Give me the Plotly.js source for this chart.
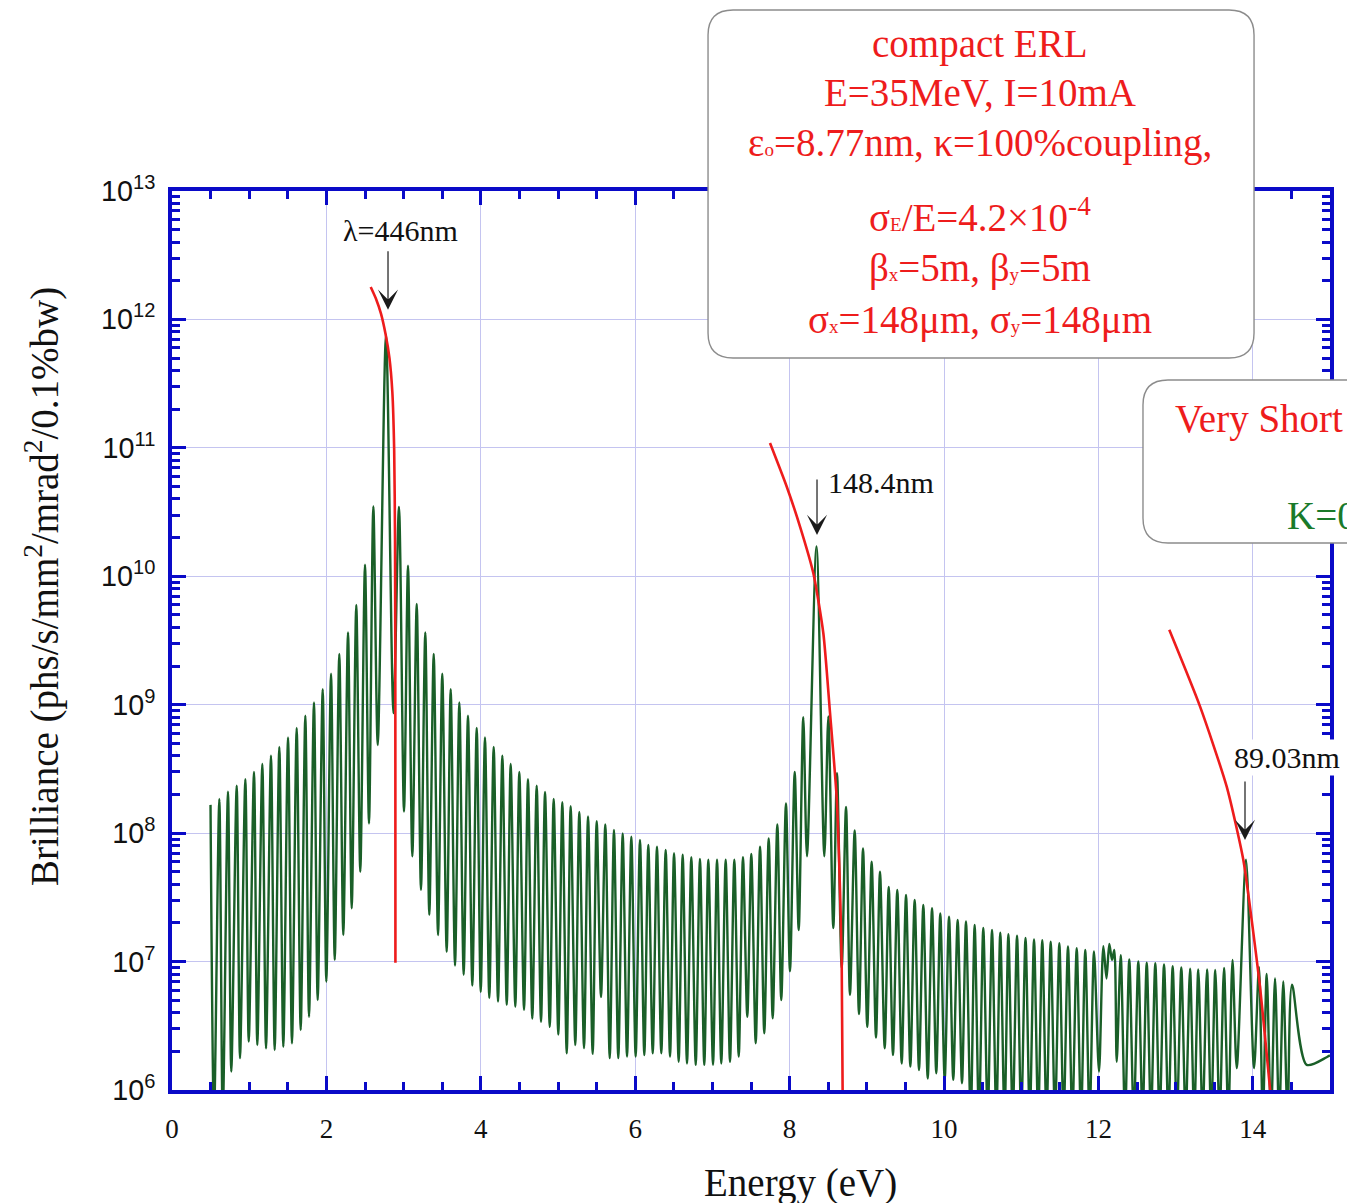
<!DOCTYPE html>
<html>
<head>
<meta charset="utf-8">
<script src="https://cdn.plot.ly/plotly-3.0.1.min.js"></script>
<style>html,body{margin:0;padding:0;background:#fff;}#chart{width:1347px;height:1203px;}</style>
</head>
<body>
<div id="chart"></div>
<script>
// ---- Green spectrum: alternating peak / trough vertices (Energy in eV, Brilliance) ----
const greenEnergy = [
0.499,0.544,0.613,0.657,0.725,0.768,0.838,0.881,0.950,0.994,
1.062,1.105,1.170,1.218,1.282,1.330,1.390,1.442,1.503,1.554,
1.615,1.667,1.727,1.775,1.839,1.887,1.952,1.999,2.060,2.108,
2.167,2.219,2.280,2.328,2.387,2.439,2.500,2.552,2.608,2.665,
2.772,2.869,2.940,3.005,3.057,3.113,3.170,3.225,3.281,3.333,
3.390,3.446,3.501,3.558,3.610,3.666,3.722,3.778,3.834,3.890,
3.947,3.999,4.054,4.110,4.167,4.223,4.279,4.336,4.387,4.447,
4.499,4.560,4.611,4.667,4.724,4.780,4.832,4.893,4.944,5.004,
5.056,5.113,5.164,5.224,5.276,5.337,5.389,5.449,5.501,5.557,
5.613,5.670,5.725,5.781,5.838,5.894,5.950,6.006,6.062,6.118,
6.170,6.227,6.282,6.338,6.395,6.451,6.503,6.563,6.615,6.671,
6.727,6.784,6.839,6.895,6.947,7.008,7.060,7.115,7.172,7.228,
7.284,7.341,7.396,7.452,7.504,7.561,7.617,7.672,7.729,7.781,
7.841,7.892,7.953,8.005,8.066,8.118,8.177,8.225,8.348,8.450,
8.502,8.566,8.614,8.675,8.731,8.782,8.843,8.899,8.951,9.006,
9.063,9.119,9.171,9.232,9.284,9.339,9.395,9.452,9.508,9.564,
9.620,9.676,9.732,9.789,9.845,9.900,9.952,10.009,10.065,10.120,
10.177,10.233,10.285,10.346,10.397,10.453,10.509,10.566,10.622,10.678,
10.729,10.784,10.834,10.890,10.946,11.000,11.056,11.111,11.166,11.220,
11.273,11.328,11.382,11.438,11.494,11.549,11.606,11.662,11.719,11.775,
11.830,11.886,11.943,12.008,12.064,12.105,12.141,12.176,12.206,12.237,
12.289,12.345,12.400,12.458,12.517,12.572,12.626,12.681,12.737,12.793,
12.850,12.907,12.962,13.017,13.074,13.130,13.187,13.241,13.294,13.350,
13.407,13.461,13.514,13.570,13.627,13.683,13.737,13.792,13.912,14.016,
14.080,14.130,14.180,14.236,14.288,14.342,14.395,14.451,14.508,14.698,
14.957,15.0
];
const greenBrilliance = [
1.66e8,6e5,1.85e8,6e5,2.10e8,1.39e6,2.34e8,1.77e6,2.63e8,2.38e6,
2.99e8,2.24e6,3.45e8,2.11e6,4.01e8,2.05e6,4.70e8,2.17e6,5.55e8,2.31e6,
6.6e8,2.93e6,8.2e8,3.72e6,1.04e9,5.02e6,1.32e9,6.97e6,1.74e9,1.03e7,
2.49e9,1.61e7,3.65e9,2.60e7,5.98e9,5.0e7,1.23e10,1.19e8,3.5e10,4.86e8,
7.6e11,8.6e8,3.47e10,1.47e8,1.21e10,6.6e7,6.1e9,3.61e7,3.65e9,2.31e7,
2.49e9,1.61e7,1.74e9,1.19e7,1.32e9,9.3e6,1.04e9,7.9e6,8.2e8,6.5e6,
6.6e8,5.8e6,5.55e8,5.2e6,4.70e8,4.88e6,4.01e8,4.6e6,3.45e8,4.45e6,
2.99e8,4.2e6,2.63e8,3.6e6,2.34e8,3.4e6,2.09e8,3.1e6,1.85e8,2.7e6,
1.74e8,1.93e6,1.62e8,2.24e6,1.46e8,2.12e6,1.35e8,1.91e6,1.24e8,5.3e6,
1.17e8,1.77e6,1.06e8,1.77e6,9.96e7,1.82e6,9.4e7,1.82e6,8.85e7,1.87e6,
8.1e7,1.93e6,7.85e7,1.93e6,7.4e7,1.82e6,6.97e7,1.66e6,6.8e7,1.61e6,
6.5e7,1.57e6,6.3e7,1.57e6,6.2e7,1.57e6,6.2e7,1.61e6,6.2e7,1.66e6,
6.2e7,1.82e6,6.5e7,3.72e6,6.9e7,2.31e6,7.85e7,2.76e6,9.1e7,3.62e6,
1.17e8,5.02e6,1.70e8,8.4e6,3.0e8,1.76e7,8.0e8,6.6e7,1.71e10,6.6e7,
8.1e8,1.82e7,2.93e8,8.9e6,1.60e8,5.5e6,1.05e8,3.9e6,7.6e7,3.1e6,
6.0e7,2.56e6,5.0e7,2.11e6,3.81e7,1.87e6,3.61e7,1.61e6,3.3e7,1.52e6,
3.02e7,1.43e6,2.76e7,1.23e6,2.60e7,1.35e6,2.37e7,1.20e6,2.24e7,1.20e6,
2.11e7,1.13e6,2.05e7,6e5,1.93e7,6e5,1.83e7,6e5,1.76e7,6e5,
1.68e7,6e5,1.63e7,6e5,1.59e7,6e5,1.53e7,6e5,1.49e7,6e5,
1.47e7,6e5,1.43e7,6e5,1.39e7,6e5,1.31e7,6e5,1.27e7,6e5,
1.23e7,6e5,1.20e7,1.39e6,1.32e7,7.4e6,1.37e7,1.03e7,1.23e7,1.66e6,
1.12e7,6e5,1.04e7,6e5,1.0e7,6e5,9.8e6,6e5,9.7e6,6e5,
9.5e6,6e5,9.2e6,6e5,9.0e6,6e5,8.8e6,6e5,8.7e6,6e5,
8.7e6,6e5,8.6e6,6e5,8.9e6,6e5,1.03e7,1.48e6,6.2e7,1.48e6,
9.1e6,6e5,8.0e6,6e5,7.4e6,6e5,7.0e6,6e5,6.6e6,1.57e6,
1.80e6,1.86e6
];

// ---- Red tuning curves (three harmonics) ----
const red1Energy = [2.574,2.642,2.707,2.766,2.817,2.854,2.878,2.889,2.893,2.894];
const red1Brilliance = [1.79e12,1.45e12,1.11e12,7.7e11,5.0e11,2.73e11,9.6e10,1.92e10,1.09e9,9.8e6];
const red2Energy = [7.746,7.962,8.135,8.307,8.437,8.523,8.610,8.653,8.675,8.688];
const red2Brilliance = [1.09e11,5.0e10,2.44e10,1.06e10,3.6e9,8.7e8,1.89e8,3.6e7,9.5e6,8e5];
const red3Energy = [12.918,13.316,13.662,13.877,13.986,14.093,14.171,14.240];
const red3Brilliance = [3.83e9,9.7e8,2.30e8,6.2e7,2.1e7,6.4e6,2.17e6,8e5];

// ---- Labels ----
const peakLabels = ["λ=446nm", "148.4nm", "89.03nm"];
const peakEnergy = [2.798, 8.355, 13.899];
const peakArrowTip = [1.19e12, 2.1e10, 8.85e7];
const SUB = s => `<span style="font-size:19px">${s}</span>`;
const boxLines = [
  "compact ERL",
  "E=35MeV, I=10mA",
  `ε${SUB('o')}=8.77nm, κ=100%coupling,`,
  `σ${SUB('E')}/E=4.2×10<sup>-4</sup>`,
  `β${SUB('x')}=5m, β${SUB('y')}=5m`,
  `σ${SUB('x')}=148μm, σ${SUB('y')}=148μm`
];
const xTitle = "Energy (eV)";
const yTitle = "Brilliance (phs/s/mm<sup>2</sup>/mrad<sup>2</sup>/0.1%bw)";

const BLUE = '#0a0ac8';
const RED = '#ee1c1c';
const GREEN = '#1a5f28';
const SERIF = 'Liberation Serif, Times New Roman, serif';
const SANS = 'Liberation Sans, Arial, sans-serif';

const traces = [
  {x: greenEnergy, y: greenBrilliance, type: 'scatter', mode: 'lines',
   line: {color: GREEN, width: 2.4, shape: 'spline', smoothing: 0.8}, hoverinfo: 'skip'},
  {x: red1Energy, y: red1Brilliance, type: 'scatter', mode: 'lines',
   line: {color: RED, width: 2.6, shape: 'spline', smoothing: 0.6}, hoverinfo: 'skip'},
  {x: red2Energy, y: red2Brilliance, type: 'scatter', mode: 'lines',
   line: {color: RED, width: 2.6, shape: 'spline', smoothing: 0.6}, hoverinfo: 'skip'},
  {x: red3Energy, y: red3Brilliance, type: 'scatter', mode: 'lines',
   line: {color: RED, width: 2.6, shape: 'spline', smoothing: 0.6}, hoverinfo: 'skip'}
];

function roundRect(x0, y0, x1, y1, rx, ry) {
  return `M${x0+rx},${y1} L${x1-rx},${y1} Q${x1},${y1} ${x1},${y1-ry} L${x1},${y0+ry} Q${x1},${y0} ${x1-rx},${y0} ` +
         `L${x0+rx},${y0} Q${x0},${y0} ${x0},${y0+ry} L${x0},${y1-ry} Q${x0},${y1} ${x0+rx},${y1} Z`;
}
const RX = 0.0216, RY = 0.0278;

const annotations = [];
// peak arrows
const arrowAy = [-60, -57, -60];
for (let i = 0; i < 3; i++) {
  annotations.push({x: peakEnergy[i], y: Math.log10(peakArrowTip[i]), xref: 'x', yref: 'y', text: '',
    showarrow: true, arrowhead: 3, arrowsize: 2.8, arrowwidth: 1.2, arrowcolor: '#1a1a1a', ax: 0, ay: arrowAy[i], standoff: 0});
}
// peak texts
annotations.push({xref: 'paper', yref: 'paper', x: 0.1969, y: 0.9566, text: peakLabels[0], showarrow: false,
  xanchor: 'center', yanchor: 'middle', font: {family: SERIF, size: 30, color: '#111'}});
annotations.push({xref: 'paper', yref: 'paper', x: 0.5648, y: 0.6763, text: peakLabels[1], showarrow: false,
  xanchor: 'left', yanchor: 'middle', font: {family: SERIF, size: 30, color: '#111'}});
annotations.push({xref: 'paper', yref: 'paper', x: 0.9150, y: 0.3693, text: peakLabels[2], showarrow: false,
  xanchor: 'left', yanchor: 'middle', bgcolor: '#ffffff', borderpad: 1,
  font: {family: SERIF, size: 30, color: '#111'}});
// box text
const boxY = [1.1635, 1.1101, 1.0534, 0.9733, 0.9143, 0.8565];
boxLines.forEach((t, i) => annotations.push({xref: 'paper', yref: 'paper', x: 0.6978, y: boxY[i], text: t,
  showarrow: false, xanchor: 'center', yanchor: 'middle', font: {family: SERIF, size: 39, color: RED}}));
// second (cut-off) box text
annotations.push({xref: 'paper', yref: 'paper', x: 0.8644, y: 0.7463, text: 'Very Short', showarrow: false,
  xanchor: 'left', yanchor: 'middle', font: {family: SERIF, size: 39, color: RED}});
annotations.push({xref: 'paper', yref: 'paper', x: 0.9611, y: 0.6387, text: 'K=0', showarrow: false,
  xanchor: 'left', yanchor: 'middle', font: {family: SERIF, size: 39, color: '#1a7a2a'}});
// axis titles
annotations.push({xref: 'paper', yref: 'paper', x: 0.543, y: -0.1034, text: xTitle, showarrow: false,
  xanchor: 'center', yanchor: 'middle', font: {family: SERIF, size: 39, color: '#111'}});
annotations.push({xref: 'paper', yref: 'paper', x: -0.1123, y: 0.5606, text: yTitle, showarrow: false, textangle: -90,
  xanchor: 'center', yanchor: 'middle', font: {family: SERIF, size: 39, color: '#111'}});

const shapes = [
  {type: 'path', xref: 'paper', yref: 'paper', layer: 'above', path: roundRect(0.4629, 0.8142, 0.9344, 1.2013, RX, RY),
   fillcolor: '#ffffff', line: {color: '#8c8c8c', width: 1.4}},
  {type: 'path', xref: 'paper', yref: 'paper', layer: 'above', path: roundRect(0.8385, 0.6085, 1.08, 0.7898, RX, RY),
   fillcolor: '#ffffff', line: {color: '#8c8c8c', width: 1.4}}
];

const axisCommon = {
  ticks: 'inside', ticklen: 14, tickwidth: 3, tickcolor: BLUE,
  showline: true, linewidth: 4, linecolor: BLUE, mirror: 'allticks',
  showgrid: true, gridcolor: '#c4c4f0', gridwidth: 1, zeroline: false
};

const layout = {
  width: 1347, height: 1203,
  margin: {l: 172, r: 17, t: 191, b: 113, pad: 0},
  paper_bgcolor: '#ffffff', plot_bgcolor: '#ffffff',
  showlegend: false,
  xaxis: Object.assign({}, axisCommon, {
    range: [0, 15], tick0: 0, dtick: 2,
    tickfont: {family: SERIF, size: 27, color: '#111'}, ticklabelstandoff: 12,
    minor: {tick0: 0, dtick: 0.5, ticks: 'inside', ticklen: 8, tickwidth: 3, tickcolor: BLUE, showgrid: false}
  }),
  yaxis: Object.assign({}, axisCommon, {
    type: 'log', range: [6, 13], dtick: 1, exponentformat: 'power',
    tickfont: {family: SANS, size: 23, color: '#111'}, ticklabelstandoff: 8,
    minor: {dtick: 'D1', ticks: 'inside', ticklen: 8, tickwidth: 3, tickcolor: BLUE, showgrid: false}
  }),
  annotations: annotations,
  shapes: shapes
};

Plotly.newPlot('chart', traces, layout, {staticPlot: true, displayModeBar: false});
</script>
</body>
</html>
